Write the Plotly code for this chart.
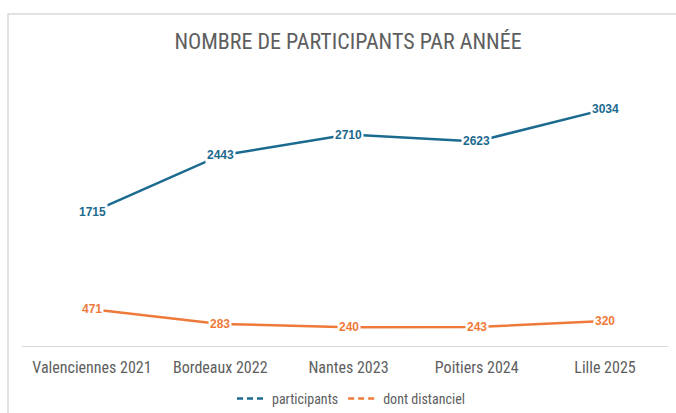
import plotly.graph_objects as go

categories = ["Valenciennes 2021", "Bordeaux 2022", "Nantes 2023", "Poitiers 2024", "Lille 2025"]
participants = [1715, 2443, 2710, 2623, 3034]
distanciel = [471, 283, 240, 243, 320]
series_names = ["participants", "dont distanciel"]
title_text = "NOMBRE DE PARTICIPANTS PAR ANNÉE"

BLUE = "#1B6A8F"
ORANGE = "#EE7A3A"
GREY = "#5E5E5E"
FONT = "Liberation Sans Narrow, Arial Narrow, Roboto Condensed, sans-serif"

xs = list(range(len(categories)))

fig = go.Figure()
for vals, color in [(participants, BLUE), (distanciel, ORANGE)]:
    fig.add_trace(go.Scatter(x=xs, y=vals, mode="lines",
                             line=dict(color=color, width=2.5),
                             showlegend=False, hoverinfo="skip"))
for name, color in zip(series_names, [BLUE, ORANGE]):
    fig.add_trace(go.Scatter(x=[None], y=[None], mode="lines", name=name,
                             line=dict(color=color, width=2.5, dash="6px,4px")))

annotations = []
for vals, color in [(participants, BLUE), (distanciel, ORANGE)]:
    for x, v in zip(xs, vals):
        annotations.append(dict(x=x, y=v, xref="x", yref="y", text=str(v),
                                showarrow=False, bgcolor="white",
                                font=dict(family="Liberation Sans, Arial, sans-serif",
                                          size=12, color=color, weight="bold"),
                                borderpad=1))

L, R, T, B = 22, 8, 73, 67
W, H = 676, 413
pw = W - L - R
ph = H - T - B
y0px = H - B
c0, c4 = 92, 605
step = (c4 - c0) / 4
xr = [(L - c0) / step, 4 + (W - R - c4) / step]

fig.update_layout(
    width=W, height=H,
    margin=dict(l=L, r=R, t=T, b=B, autoexpand=False),
    paper_bgcolor="white", plot_bgcolor="white",
    title=dict(text=title_text, x=(348 - L) / pw, xref="paper", xanchor="center",
               y=1 - 41 / H, yanchor="middle",
               font=dict(family=FONT, size=22, color=GREY)),
    xaxis=dict(range=xr, tickmode="array", tickvals=xs, ticktext=categories,
               showgrid=False, zeroline=False, showline=True, automargin=False,
               linecolor="#D9D9D9", linewidth=1, ticks="",
               ticklabelstandoff=7,
               tickfont=dict(family=FONT, size=16, color=GREY)),
    yaxis=dict(range=[0, 3500], visible=False, showgrid=False, zeroline=False),
    legend=dict(orientation="h", x=(351 - L) / pw, xanchor="center",
                yref="container", y=1 - 399 / H,
                yanchor="middle", font=dict(family=FONT, size=14, color=GREY),
                itemwidth=30),
    annotations=annotations,
    shapes=[dict(type="rect", xref="paper", yref="paper",
                 x0=(8 - L) / pw, x1=1.2,
                 y0=-1, y1=(y0px - 14) / ph,
                 line=dict(color="#D9D9D9", width=1.5), layer="below")],
)

fig.write_html("out.html")
